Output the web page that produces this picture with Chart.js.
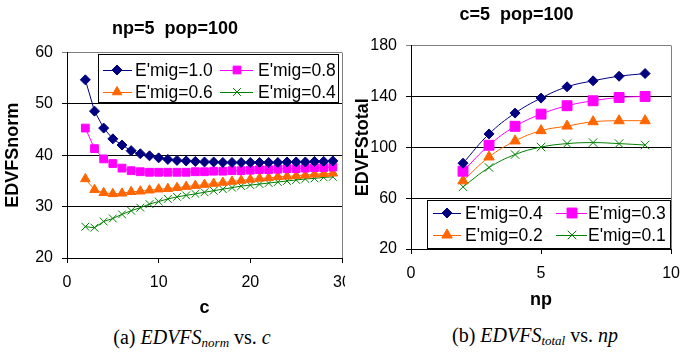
<!DOCTYPE html>
<html lang="en">
<head>
<meta charset="UTF-8">
<title>EDVFS vs c and np</title>
<script src="https://cdn.jsdelivr.net/npm/chart.js"></script>
<style>
  body { margin: 0; width: 680px; height: 354px; overflow: hidden; background: #fff; position: relative; }
  canvas { position: absolute; top: 0; background: #fff; }
  #leftChart { left: 0; z-index: 1; }
  #rightChart { left: 345px; z-index: 2; }
  .caption { position: absolute; font-family: "Liberation Serif", "Times New Roman", serif; font-size: 20px; line-height: 22px; transform: translateX(-50%); white-space: nowrap; color: #000; }
  .caption sub { font-size: 13px; line-height: 0; vertical-align: -3px; }
</style>
</head>
<body>
<canvas id="leftChart" width="362" height="320"></canvas>
<canvas id="rightChart" width="345" height="320"></canvas>
<div class="caption" style="left:192px; top:326px;">(a) <i>EDVFS<sub>norm</sub></i> vs. <i>c</i></div>
<div class="caption" style="left:535px; top:324px;">(b) <i>EDVFS<sub>total</sub></i> vs. <i>np</i></div>

<script>
// chart (a): EDVFSnorm against c   (np=5, pop=100)
const cValues = [2, 3, 4, 5, 6, 7, 8, 9, 10, 11, 12, 13, 14, 15, 16, 17, 18, 19, 20, 21, 22, 23, 24, 25, 26, 27, 28, 29];
const normMig10 = [54.7, 48.6, 45.3, 43.2, 42.0, 40.9, 40.3, 39.9, 39.5, 39.2, 39.0, 38.9, 38.8, 38.7, 38.7, 38.6, 38.6, 38.6, 38.6, 38.6, 38.6, 38.6, 38.7, 38.7, 38.7, 38.8, 38.8, 38.9];
const normMig08 = [45.3, 41.3, 39.3, 38.4, 37.5, 37.0, 36.8, 36.7, 36.7, 36.7, 36.7, 36.7, 36.8, 36.8, 36.9, 36.9, 37.0, 37.0, 37.1, 37.2, 37.2, 37.3, 37.4, 37.4, 37.5, 37.6, 37.6, 37.7];
const normMig06 = [35.4, 33.3, 32.7, 32.5, 32.6, 32.9, 33.0, 33.2, 33.4, 33.5, 33.7, 33.9, 34.1, 34.3, 34.5, 34.7, 34.9, 35.1, 35.3, 35.5, 35.6, 35.8, 35.9, 36.0, 36.1, 36.3, 36.4, 36.5];
const normMig04 = [26.1, 25.9, 27.1, 27.7, 28.5, 29.2, 29.8, 30.5, 31.0, 31.5, 31.9, 32.2, 32.5, 32.8, 33.1, 33.4, 33.7, 34.0, 34.2, 34.4, 34.6, 34.8, 35.0, 35.2, 35.4, 35.5, 35.7, 35.8];
const normLabels = ["E'mig=1.0", "E'mig=0.8", "E'mig=0.6", "E'mig=0.4"];

// chart (b): EDVFStotal against np   (c=5, pop=100)
const npValues = [2, 3, 4, 5, 6, 7, 8, 9];
const totalMig04 = [87.5, 110.5, 126.9, 138.7, 147.6, 152.3, 155.9, 158.0];
const totalMig03 = [81.2, 101.6, 116.5, 126.1, 132.7, 136.6, 139.2, 140.0];
const totalMig02 = [73.6, 92.4, 105.0, 113.1, 116.7, 120.1, 120.9, 120.9];
const totalMig01 = [68.9, 84.1, 94.3, 100.2, 102.9, 103.7, 102.9, 101.8];
const totalLabels = ["E'mig=0.4", "E'mig=0.3", "E'mig=0.2", "E'mig=0.1"];

const FONT = '"Liberation Sans", Arial, sans-serif';
const colors = ['#000080', '#FF00FF', '#FF6600', '#008000'];
const shapes = ['rectRot', 'rect', 'triangle', 'crossRot'];

function toPoints(xs, ys) {
  return xs.map((x, i) => ({ x: x, y: ys[i] }));
}

function makeDatasets(xs, lists, labels, radii, tension) {
  return lists.map((ys, i) => ({
    label: labels[i],
    data: toPoints(xs, ys),
    borderColor: colors[i],
    backgroundColor: colors[i],
    pointBackgroundColor: colors[i],
    pointBorderColor: colors[i],
    pointStyle: shapes[i],
    pointRadius: radii[i],
    pointBorderWidth: 1,
    borderWidth: 1,
    tension: tension
  }));
}

// legend inside a framed box, two columns
const boxLegend = {
  id: 'boxLegend',
  afterDraw(chart, args, opts) {
    const ctx = chart.ctx;
    ctx.save();
    ctx.fillStyle = '#fff';
    ctx.fillRect(opts.x, opts.y, opts.w, opts.h);
    ctx.strokeStyle = '#000';
    ctx.lineWidth = 1;
    ctx.strokeRect(opts.x + 0.5, opts.y + 0.5, opts.w, opts.h);
    ctx.font = '17.5px ' + FONT;
    ctx.textBaseline = 'middle';
    chart.data.datasets.forEach((ds, i) => {
      const col = opts.cols[i % 2];
      const y = opts.rows[Math.floor(i / 2)];
      ctx.strokeStyle = ds.borderColor;
      ctx.lineWidth = 1;
      ctx.beginPath();
      ctx.moveTo(col.line[0], y + 0.5);
      ctx.lineTo(col.line[1], y + 0.5);
      ctx.stroke();
      ctx.fillStyle = ds.pointBackgroundColor;
      Chart.helpers.drawPoint(ctx, { pointStyle: ds.pointStyle, radius: ds.pointRadius, rotation: 0, borderWidth: 1 }, col.mark, y);
      ctx.fillStyle = '#000';
      ctx.textAlign = 'left';
      ctx.fillText(ds.label, col.text, y + 1);
    });
    ctx.restore();
  }
};

// grey right edge of the plot area
const plotEdge = {
  id: 'plotEdge',
  beforeDatasetsDraw(chart) {
    const a = chart.chartArea;
    const ctx = chart.ctx;
    ctx.save();
    ctx.strokeStyle = '#808080';
    ctx.lineWidth = 1;
    ctx.beginPath();
    ctx.moveTo(Math.round(a.right) + 0.5, a.top);
    ctx.lineTo(Math.round(a.right) + 0.5, a.bottom);
    ctx.stroke();
    ctx.restore();
  }
};

function makeOptions(cfg) {
  return {
    responsive: false,
    animation: false,
    layout: { padding: { left: cfg.padLeft, right: cfg.padRight, top: 0, bottom: 0 } },
    plugins: {
      legend: { display: false },
      tooltip: { enabled: false },
      title: {
        display: true,
        text: cfg.title,
        color: '#000',
        font: { family: FONT, size: 18, weight: 'bold' },
        padding: cfg.titlePad
      },
      boxLegend: cfg.legend
    },
    scales: {
      x: {
        type: 'linear',
        min: cfg.xMin, max: cfg.xMax,
        afterFit: s => { s.height = cfg.xHeight; },
        ticks: { stepSize: cfg.xStep, color: '#000', padding: 10, font: { family: FONT, size: 16 } },
        grid: { drawOnChartArea: false, drawTicks: true, tickLength: 5, color: '#000' },
        border: { color: '#000' },
        title: { display: true, text: cfg.xTitle, color: '#000', font: { family: FONT, size: 18, weight: 'bold' }, padding: { top: 0, bottom: cfg.xTitlePad } }
      },
      y: {
        min: cfg.yMin, max: cfg.yMax,
        afterFit: s => { s.width = cfg.yWidth; },
        ticks: { stepSize: cfg.yStep, color: '#000', padding: 9, font: { family: FONT, size: 16 } },
        grid: {
          color: c => (c.tick && c.tick.value === cfg.yMax ? '#808080' : '#000'),
          tickLength: 5
        },
        border: { color: '#000' },
        title: { display: true, text: cfg.yTitle, color: '#000', font: { family: FONT, size: 18, weight: 'bold' }, padding: { top: cfg.yTitlePad, bottom: 0 } }
      }
    }
  };
}

new Chart(document.getElementById('leftChart'), {
  type: 'line',
  data: { datasets: makeDatasets(cValues, [normMig10, normMig08, normMig06, normMig04], normLabels, [5, 5.5, 5.5, 5.5], 0) },
  options: makeOptions({
    title: 'np=5  pop=100', titlePad: { top: 18, bottom: 13 },
    padLeft: 8, padRight: 20, yWidth: 59, xHeight: 62,
    xMin: 0, xMax: 30, xStep: 10, xTitle: 'c', xTitlePad: 1,
    yMin: 20, yMax: 60, yStep: 10, yTitle: 'EDVFSnorm', yTitlePad: -6,
    legend: {
      x: 98, y: 54, w: 240, h: 48, rows: [70, 92],
      cols: [{ line: [103, 132], mark: 117, text: 135 }, { line: [220, 253], mark: 237, text: 258 }]
    }
  }),
  plugins: [plotEdge, boxLegend]
});

new Chart(document.getElementById('rightChart'), {
  type: 'line',
  data: { datasets: makeDatasets(npValues, [totalMig04, totalMig03, totalMig02, totalMig01], totalLabels, [5, 7, 6, 6], 0.4) },
  options: makeOptions({
    title: 'c=5  pop=100', titlePad: { top: 4, bottom: 20 },
    padLeft: 15, padRight: 17, yWidth: 51, xHeight: 71,
    xMin: 0, xMax: 10, xStep: 5, xTitle: 'np', xTitlePad: 9,
    yMin: 20, yMax: 180, yStep: 40, yTitle: 'EDVFStotal', yTitlePad: -8,
    legend: {
      x: 82, y: 200, w: 243, h: 48, rows: [213, 235],
      cols: [{ line: [88, 116], mark: 102, text: 120 }, { line: [211, 242], mark: 227, text: 243 }]
    }
  }),
  plugins: [plotEdge, boxLegend]
});
</script>
</body>
</html>
